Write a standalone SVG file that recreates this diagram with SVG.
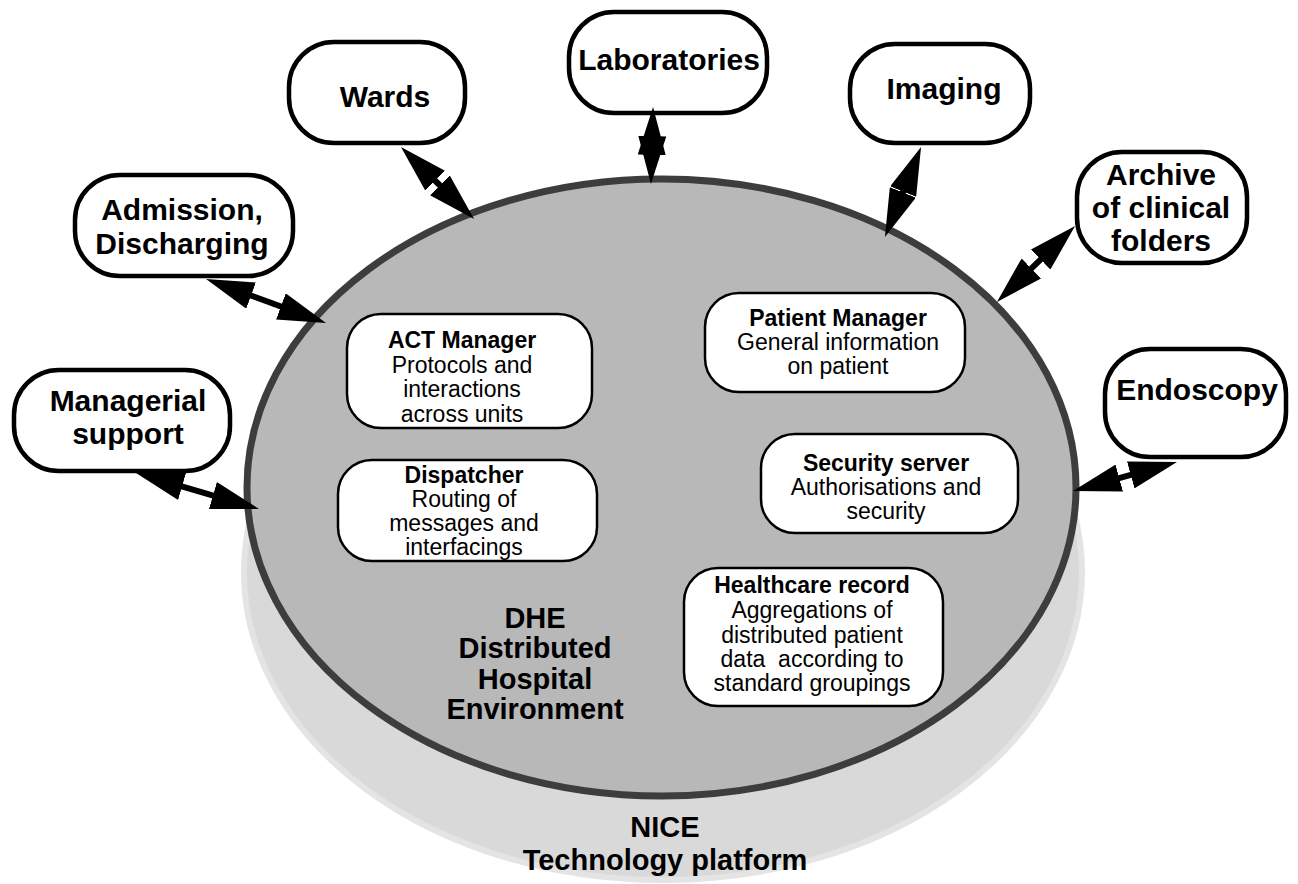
<svg xmlns="http://www.w3.org/2000/svg" width="1298" height="884" viewBox="0 0 1298 884">
  <style>
    .outer rect { fill: #ffffff; stroke: #000000; stroke-width: 4.5; }
    .inner rect { fill: #ffffff; stroke: #000000; stroke-width: 2.5; }
    .lbl { font-family: "Liberation Sans", Arial, sans-serif; font-weight: bold; font-size: 30px; fill: #000; text-anchor: middle; }
    .ttl { font-family: "Liberation Sans", Arial, sans-serif; font-weight: bold; font-size: 23px; fill: #000; text-anchor: middle; }
    .dsc { font-family: "Liberation Sans", Arial, sans-serif; font-size: 23px; fill: #000; text-anchor: middle; }
    .big { font-family: "Liberation Sans", Arial, sans-serif; font-weight: bold; font-size: 29px; fill: #000; text-anchor: middle; }
    .conn line { stroke: #000; stroke-width: 6; marker-start: url(#ah); marker-end: url(#ah); }
  </style>
  <defs>
    <marker id="ah" markerUnits="userSpaceOnUse" markerWidth="48" markerHeight="28" viewBox="0 0 48 28" refX="28" refY="14" orient="auto-start-reverse">
      <path d="M0,0 L48,14 L0,28 z" fill="#000"/>
    </marker>
  </defs>
  <rect width="1298" height="884" fill="#ffffff"/>

  <g id="nice-platform">
    <ellipse cx="663" cy="572" rx="419" ry="308" fill="#d9d9d9" stroke="#e4e4e4" stroke-width="6"/>
    <text class="big" x="665" y="837">NICE</text>
    <text class="big" x="665" y="870">Technology platform</text>
  </g>

  <g id="dhe">
    <ellipse cx="661.5" cy="487.5" rx="414.5" ry="308.5" fill="#b8b8b8" stroke="#3d3d3d" stroke-width="7"/>
    <text class="big" x="535" y="628">DHE</text>
    <text class="big" x="535" y="658">Distributed</text>
    <text class="big" x="535" y="689">Hospital</text>
    <text class="big" x="535" y="719">Environment</text>
  </g>

  <g id="act-manager" class="inner">
    <rect x="347" y="314" width="245" height="114" rx="34"/>
    <text class="ttl" x="462" y="348">ACT Manager</text>
    <text class="dsc" x="462" y="373">Protocols and</text>
    <text class="dsc" x="462" y="397">interactions</text>
    <text class="dsc" x="462" y="422">across units</text>
  </g>
  <g id="dispatcher" class="inner">
    <rect x="338" y="460" width="259" height="101" rx="34"/>
    <text class="ttl" x="464" y="483">Dispatcher</text>
    <text class="dsc" x="464" y="507">Routing of</text>
    <text class="dsc" x="464" y="531">messages and</text>
    <text class="dsc" x="464" y="555">interfacings</text>
  </g>
  <g id="patient-manager" class="inner">
    <rect x="705" y="293" width="260" height="99" rx="34"/>
    <text class="ttl" x="838" y="326">Patient Manager</text>
    <text class="dsc" x="838" y="350">General information</text>
    <text class="dsc" x="838" y="374">on patient</text>
  </g>
  <g id="security-server" class="inner">
    <rect x="761" y="434" width="257" height="99" rx="34"/>
    <text class="ttl" x="886" y="471">Security server</text>
    <text class="dsc" x="886" y="495">Authorisations and</text>
    <text class="dsc" x="886" y="519">security</text>
  </g>
  <g id="healthcare-record" class="inner">
    <rect x="684" y="568" width="259" height="138" rx="34"/>
    <text class="ttl" x="812" y="593">Healthcare record</text>
    <text class="dsc" x="812" y="618">Aggregations of</text>
    <text class="dsc" x="812" y="643">distributed patient</text>
    <text class="dsc" x="812" y="667" xml:space="preserve">data  according to</text>
    <text class="dsc" x="812" y="691">standard groupings</text>
  </g>

  <g id="wards" class="outer">
    <rect x="289" y="42" width="176" height="101" rx="45"/>
    <text class="lbl" x="385" y="107">Wards</text>
  </g>
  <g id="laboratories" class="outer">
    <rect x="569" y="12" width="198" height="101" rx="45"/>
    <text class="lbl" x="669" y="70">Laboratories</text>
  </g>
  <g id="imaging" class="outer">
    <rect x="850" y="44" width="180" height="99" rx="45"/>
    <text class="lbl" x="944" y="99">Imaging</text>
  </g>
  <g id="archive" class="outer">
    <rect x="1077" y="152" width="170" height="111" rx="45"/>
    <text class="lbl" x="1161" y="185">Archive</text>
    <text class="lbl" x="1161" y="218">of clinical</text>
    <text class="lbl" x="1161" y="251">folders</text>
  </g>
  <g id="admission" class="outer">
    <rect x="75" y="175" width="218" height="101" rx="45"/>
    <text class="lbl" x="182" y="220">Admission,</text>
    <text class="lbl" x="182" y="254">Discharging</text>
  </g>
  <g id="managerial" class="outer">
    <rect x="14" y="370" width="216" height="101" rx="45"/>
    <text class="lbl" x="128" y="411">Managerial</text>
    <text class="lbl" x="128" y="444">support</text>
  </g>
  <g id="endoscopy" class="outer">
    <rect x="1105" y="349" width="181" height="108" rx="45"/>
    <text class="lbl" x="1197" y="400">Endoscopy</text>
  </g>

  <g id="connectors" class="conn">
    <line x1="415.2" y1="161" x2="459.8" y2="205"/>
    <line x1="652.5" y1="127" x2="651.5" y2="164"/>
    <line x1="913.6" y1="165.6" x2="892.4" y2="218.4"/>
    <line x1="1060.7" y1="240" x2="1011.3" y2="288"/>
    <line x1="224.8" y1="285.9" x2="307.2" y2="316.1"/>
    <line x1="155.2" y1="478.6" x2="239.8" y2="503.4"/>
    <line x1="1157.7" y1="467.4" x2="1092.3" y2="485.6"/>
  </g>
</svg>
